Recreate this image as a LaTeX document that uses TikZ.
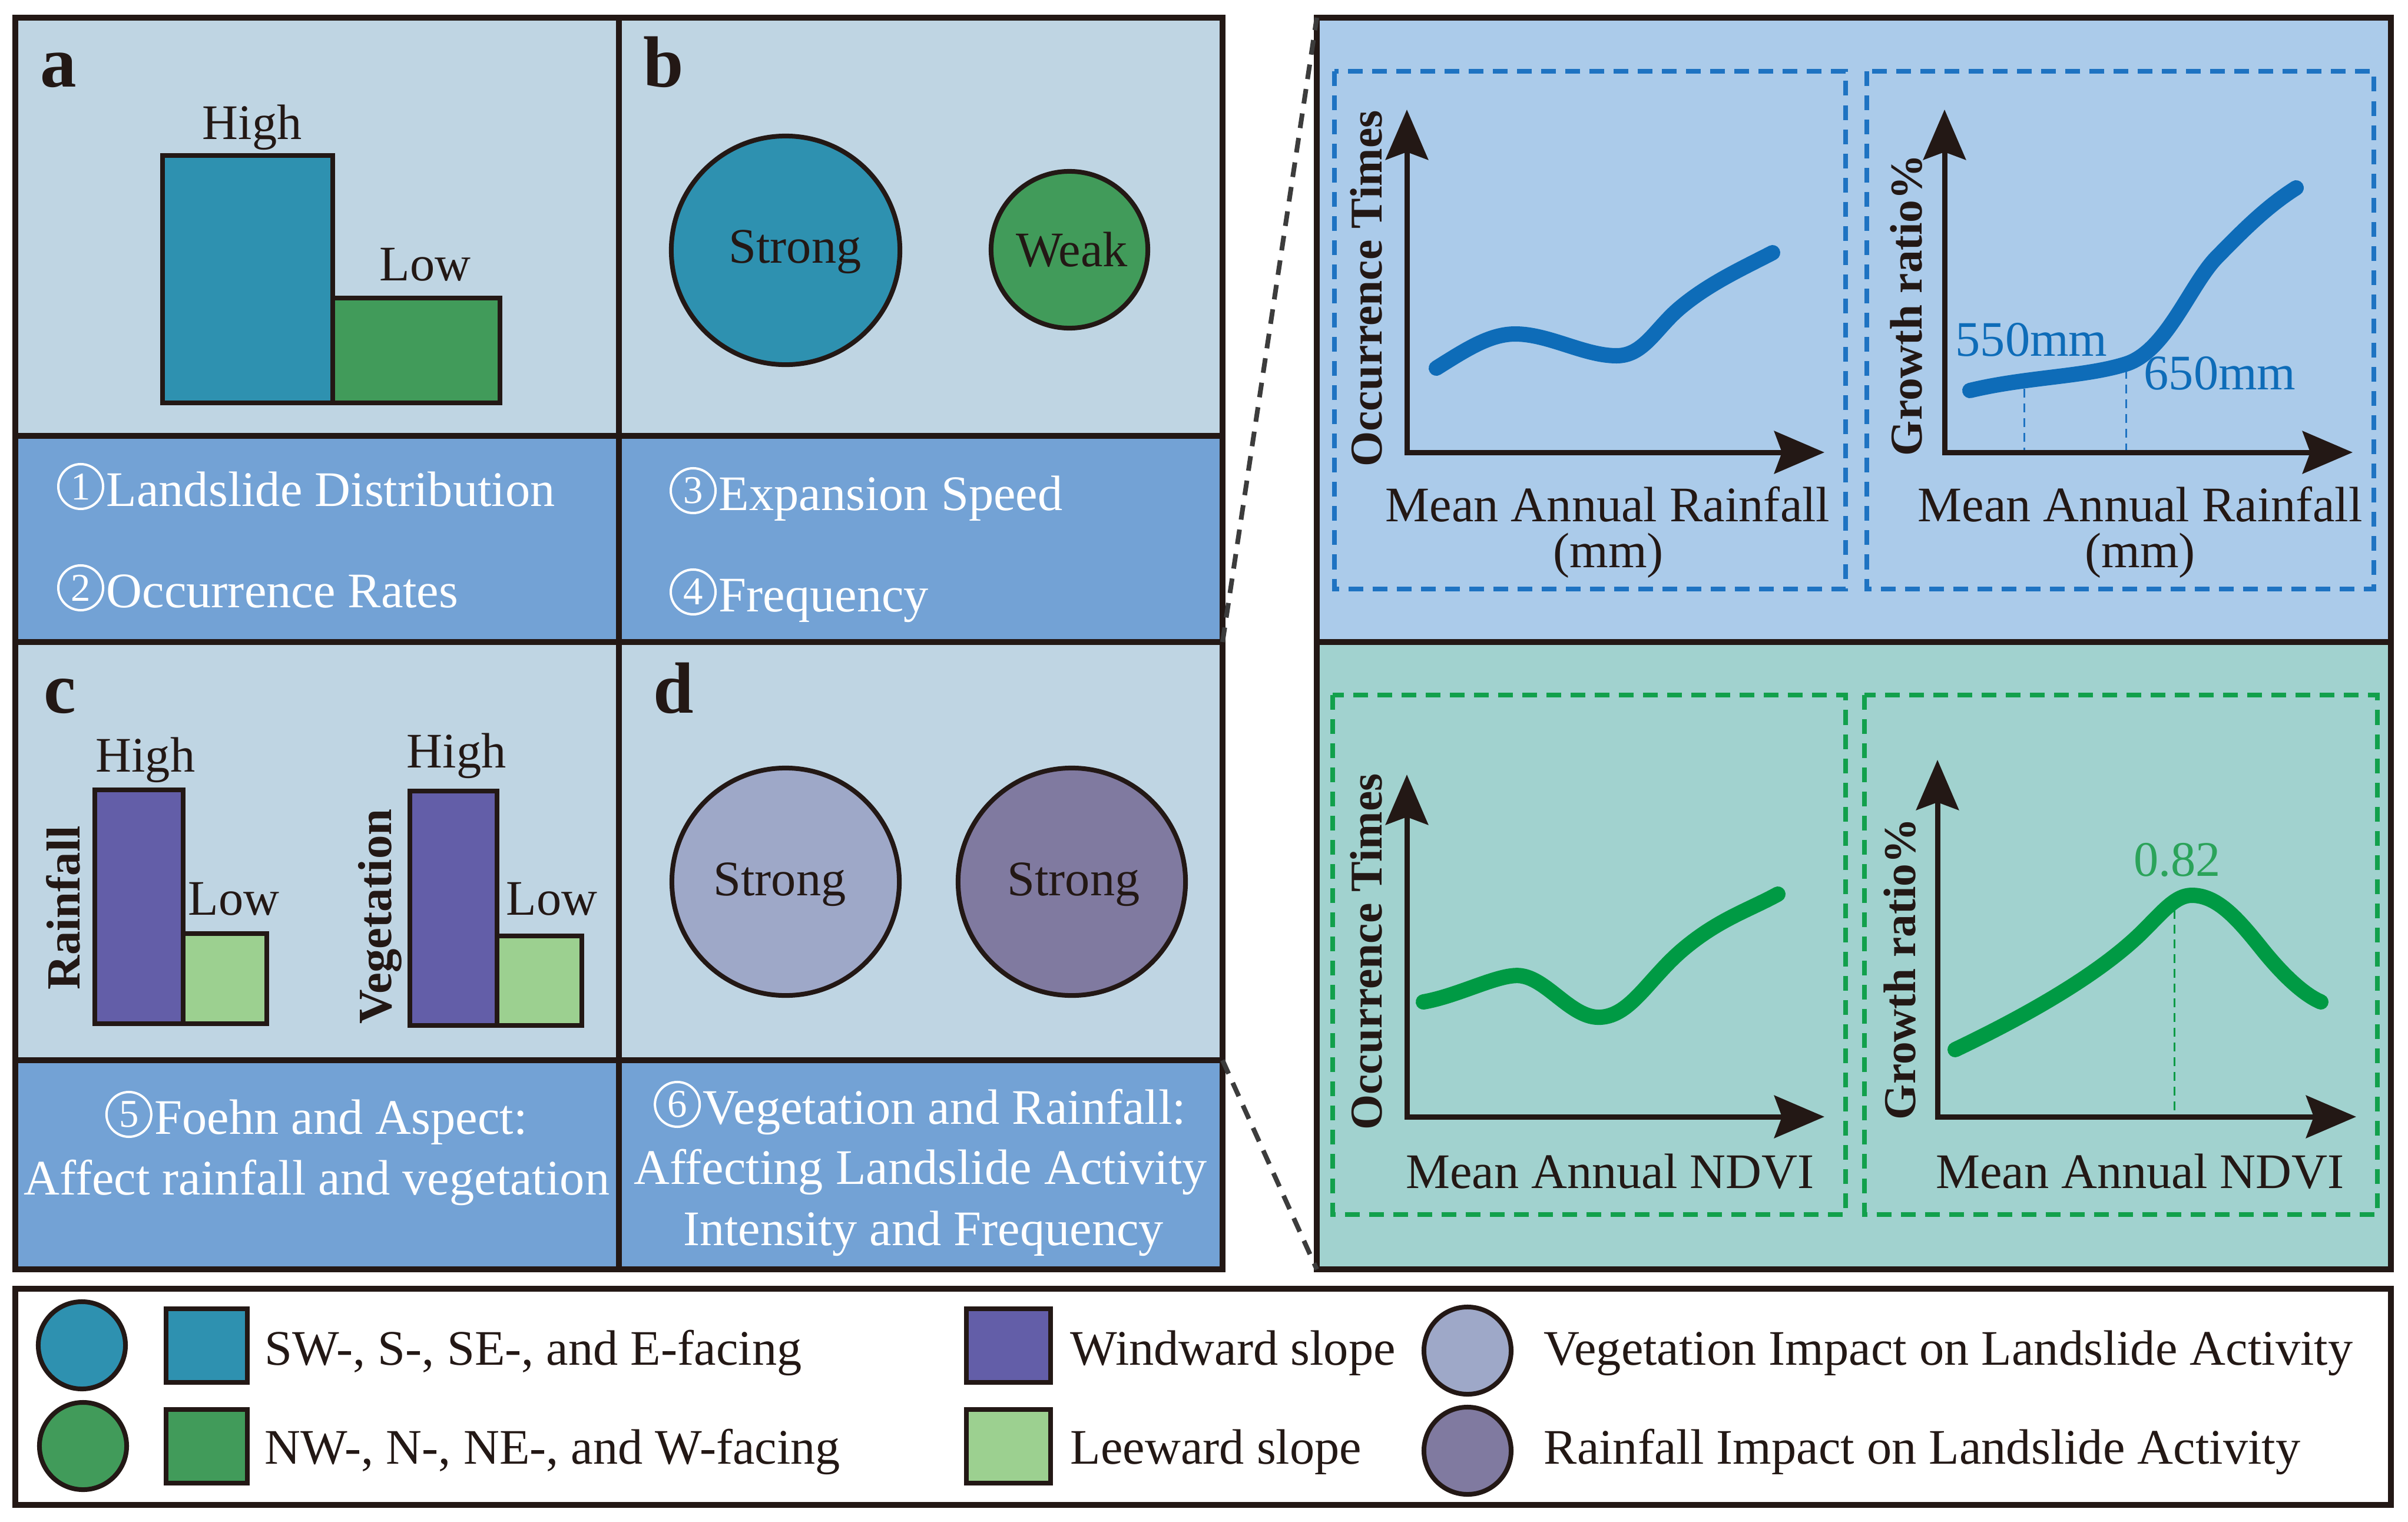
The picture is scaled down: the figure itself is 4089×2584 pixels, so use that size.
\documentclass[tikz,border=0pt]{standalone}
\usepackage{fontspec}
\setmainfont{Liberation Serif}
\usetikzlibrary{arrows.meta}
\definecolor{ink}{HTML}{231815}
\definecolor{panelbg}{HTML}{BFD5E3}
\definecolor{capbg}{HTML}{73A2D5}
\definecolor{topbg}{HTML}{ABCBEA}
\definecolor{botbg}{HTML}{A1D2CF}
\definecolor{tealc}{HTML}{2E91B0}
\definecolor{greenc}{HTML}{419B5A}
\definecolor{purplec}{HTML}{635EA8}
\definecolor{lgreenc}{HTML}{9CD090}
\definecolor{vegc}{HTML}{9EA8C8}
\definecolor{rainc}{HTML}{807AA0}
\definecolor{curveblue}{HTML}{0E6CB8}
\definecolor{dashblue}{HTML}{1E73C2}
\definecolor{curvegreen}{HTML}{009A44}
\definecolor{dashgreen}{HTML}{12A04C}
\definecolor{numgreen}{HTML}{2BA35A}
\definecolor{connc}{HTML}{3C3C3C}
\begin{document}
\begin{tikzpicture}[x=0.01cm,y=-0.01cm,
  border/.style={draw=ink,line width=0.1cm},
  barbox/.style={draw=ink,line width=0.08cm},
  lbl/.style={font=\fontsize{24}{28}\selectfont,text=ink,inner sep=0pt},
  captxt/.style={font=\fontsize{24}{28}\selectfont,text=white,inner sep=0pt},
  numc/.style={circle,draw=white,line width=0.04cm,minimum size=0.76cm,inner sep=0pt,text=white,font=\fontsize{19}{19}\selectfont},
  ylab/.style={font=\bfseries\fontsize{22}{26}\selectfont,rotate=90,inner sep=0pt,text=ink},
  barlab/.style={font=\bfseries\fontsize{23}{26}\selectfont,rotate=90,inner sep=0pt,text=ink},
  pletter/.style={font=\bfseries\fontsize{35}{40}\selectfont,inner sep=0pt,anchor=base west,text=ink},
  bigcirc/.style={circle,draw=ink,line width=0.08cm,inner sep=0pt},
  legc/.style={circle,draw=ink,line width=0.08cm,inner sep=0pt,minimum size=1.48cm},
  chartaxis/.style={draw=ink,line width=0.09cm,<->,>={Stealth[length=8.5mm,width=7.2mm,inset=1.3mm]}},
  dbox/.style={line width=0.08cm,dash pattern=on 0.25cm off 0.16cm},
  thindash/.style={line width=0.03cm,dash pattern=on 0.15cm off 0.1cm},
  conn/.style={draw=connc,line width=0.08cm,dash pattern=on 0.25cm off 0.17cm},
  curve/.style={line width=0.26cm,line cap=round,line join=round}
]
\useasboundingbox (0,0) rectangle (4089,2584);
\fill[white] (0,0) rectangle (4089,2584);

% ---------- left block ----------
\fill[panelbg] (26,30) rectangle (2076,740);
\fill[capbg] (26,740) rectangle (2076,1090);
\fill[panelbg] (26,1090) rectangle (2076,1800);
\fill[capbg] (26,1800) rectangle (2076,2155);
\draw[border] (1051,30) -- (1051,2155);
\draw[border] (26,740) -- (2076,740);
\draw[border] (26,1090) -- (2076,1090);
\draw[border] (26,1800) -- (2076,1800);
\draw[border] (26,30) rectangle (2076,2155);

% ---------- right block ----------
\fill[topbg] (2236,30) rectangle (4060,1090);
\fill[botbg] (2236,1090) rectangle (4060,2155);
\draw[border] (2236,1090) -- (4060,1090);
\draw[border] (2236,30) rectangle (4060,2155);

% connectors
\coordinate (lt) at (2076,1090);
\coordinate (rt) at (2236,30);
\coordinate (lb) at (2076,1800);
\coordinate (rb) at (2236,2155);
\draw[conn] (lt) -- (rt);
\draw[conn] (lb) -- (rb);

% ---------- panel a ----------
\node[pletter] (la) at (68,147) {a};
\draw[barbox,fill=tealc] (276,264) rectangle (565,684);
\draw[barbox,fill=greenc] (565,506) rectangle (849,684);
\node[lbl] (ahigh) at (428,216) {High};
\node[lbl] (alow) at (722,449) {Low};

% ---------- panel b ----------
\node[pletter] (lb2) at (1092,147) {b};
\node[bigcirc,fill=tealc,minimum size=3.88cm] (bstrong) at (1334,425) {};
\node[bigcirc,fill=greenc,minimum size=2.66cm] (bweak) at (1816,424) {};
\node[lbl] (bstrongt) at (1350,428) {Strong};
\node[lbl] (bweakt) at (1820,424) {Weak};

% ---------- captions a, b ----------
\node[captxt,anchor=base west] (t1) at (98,859) {\hspace{0.82cm}Landslide Distribution};
\node[numc] (n1) at ([xshift=0.39cm,yshift=0.33cm]t1.base west) {1};
\node[captxt,anchor=base west] (t2) at (98,1031) {\hspace{0.82cm}Occurrence Rates};
\node[numc] (n2) at ([xshift=0.39cm,yshift=0.33cm]t2.base west) {2};
\node[captxt,anchor=base west] (t3) at (1138,866) {\hspace{0.82cm}Expansion Speed};
\node[numc] (n3) at ([xshift=0.39cm,yshift=0.33cm]t3.base west) {3};
\node[captxt,anchor=base west] (t4) at (1138,1038) {\hspace{0.82cm}Frequency};
\node[numc] (n4) at ([xshift=0.39cm,yshift=0.33cm]t4.base west) {4};

% ---------- panel c ----------
\node[pletter] (lc) at (74,1210) {c};
\draw[barbox,fill=purplec] (161,1341) rectangle (311,1738);
\draw[barbox,fill=lgreenc] (311,1585) rectangle (453,1738);
\draw[barbox,fill=purplec] (696,1343) rectangle (844,1741);
\draw[barbox,fill=lgreenc] (844,1589) rectangle (988,1741);
\node[lbl] (chigh1) at (247,1290) {High};
\node[lbl] (clow1) at (397,1526) {Low};
\node[lbl] (chigh2) at (775,1283) {High};
\node[lbl] (clow2) at (937,1526) {Low};
\node[barlab] (crain) at (107,1541) {Rainfall};
\node[barlab] (cveg) at (645,1556) {Vegetation};

% ---------- panel d ----------
\node[pletter] (ld) at (1109,1210) {d};
\node[bigcirc,fill=vegc,minimum size=3.86cm] (dveg) at (1334,1497) {};
\node[bigcirc,fill=rainc,minimum size=3.86cm] (drain) at (1820,1497) {};
\node[lbl] (dvegt) at (1324,1502) {Strong};
\node[lbl] (draint) at (1823,1502) {Strong};

% ---------- captions c, d ----------
\node[captxt,anchor=base] (t5) at (538,1925) {\hspace{0.82cm}Foehn and Aspect:};
\node[numc] (n5) at ([xshift=0.39cm,yshift=0.33cm]t5.base west) {5};
\node[captxt,anchor=base] (t5b) at (538,2028) {Affect rainfall and vegetation};
\node[captxt,anchor=base] (t6) at (1563,1908) {\hspace{0.82cm}Vegetation and Rainfall:};
\node[numc] (n6) at ([xshift=0.39cm,yshift=0.33cm]t6.base west) {6};
\node[captxt,anchor=base] (t6b) at (1563,2010) {Affecting Landslide Activity};
\node[captxt,anchor=base] (t6c) at (1568,2114) {Intensity and Frequency};

% ---------- top right charts ----------
\draw[dbox,draw=dashblue] (2266,121) rectangle (3134,1000);
\draw[dbox,draw=dashblue] (3170,121) rectangle (4031,1000);
% chart 1
\draw[chartaxis] (2389,186) -- (2389,768) -- (3098,768);
\draw[curve,draw=curveblue] (2439,625) .. controls (2490,593) and (2530,567) .. (2573,567)
  .. controls (2630,567) and (2690,604) .. (2745,604)
  .. controls (2790,604) and (2810,560) .. (2850,525)
  .. controls (2900,482) and (2960,455) .. (3010,429);
\node[ylab] (y1) at (2320,490) {Occurrence Times};
\node[lbl,anchor=base] (x1) at (2730,885) {Mean Annual Rainfall};
\node[lbl,anchor=base] (x1b) at (2731,963) {(mm)};
% chart 2
\draw[thindash,draw=dashblue] (3437,660) -- (3437,768);
\draw[thindash,draw=dashblue] (3610,628) -- (3610,768);
\draw[chartaxis] (3302,186) -- (3302,768) -- (3995,768);
\draw[curve,draw=curveblue] (3345,663) .. controls (3440,640) and (3540,640) .. (3610,618)
  .. controls (3680,596) and (3720,480) .. (3766,435)
  .. controls (3810,390) and (3850,350) .. (3899,319);
\node[ylab] (y2) at (3237,518) {Growth ratio\%};
\node[lbl,anchor=base] (x2) at (3634,885) {Mean Annual Rainfall};
\node[lbl,anchor=base] (x2b) at (3634,963) {(mm)};
\node[lbl,text=curveblue,anchor=base west] (v550) at (3320,604) {550mm};
\node[lbl,text=curveblue,anchor=base west] (v650) at (3640,661) {650mm};

% ---------- bottom right charts ----------
\draw[dbox,draw=dashgreen] (2263,1180) rectangle (3134,2062);
\draw[dbox,draw=dashgreen] (3166,1180) rectangle (4037,2062);
% chart 3
\draw[chartaxis] (2389,1315) -- (2389,1896) -- (3098,1896);
\draw[curve,draw=curvegreen] (2417,1701) .. controls (2480,1690) and (2550,1650) .. (2585,1657)
  .. controls (2630,1665) and (2670,1730) .. (2718,1727)
  .. controls (2770,1724) and (2800,1660) .. (2860,1610)
  .. controls (2920,1560) and (2970,1545) .. (3019,1518);
\node[ylab] (y3) at (2320,1616) {Occurrence Times};
\node[lbl,anchor=base] (x3) at (2734,2017) {Mean Annual NDVI};
% chart 4
\draw[thindash,draw=curvegreen] (3692,1520) -- (3692,1896);
\draw[chartaxis] (3290,1290) -- (3290,1896) -- (4001,1896);
\draw[curve,draw=curvegreen] (3320,1782) .. controls (3450,1720) and (3570,1650) .. (3640,1580)
  .. controls (3675,1545) and (3695,1520) .. (3722,1520)
  .. controls (3765,1520) and (3800,1560) .. (3840,1610)
  .. controls (3880,1660) and (3915,1690) .. (3941,1701);
\node[ylab] (y4) at (3226,1645) {Growth ratio\%};
\node[lbl,anchor=base] (x4) at (3634,2017) {Mean Annual NDVI};
\node[lbl,text=numgreen,anchor=base] (v082) at (3697,1487) {0.82};

% ---------- legend ----------
\draw[border,fill=white] (26,2188) rectangle (4060,2555);
\node[legc,fill=tealc] (lc1) at (139,2284) {};
\node[legc,fill=greenc] (lc2) at (141,2455) {};
\draw[barbox,fill=tealc] (282,2222) rectangle (420,2347);
\draw[barbox,fill=greenc] (282,2393) rectangle (420,2518);
\node[lbl,anchor=base west] (lt1) at (449,2317) {SW-, S-, SE-, and E-facing};
\node[lbl,anchor=base west] (lt2) at (449,2485) {NW-, N-, NE-, and W-facing};
\draw[barbox,fill=purplec] (1641,2222) rectangle (1784,2347);
\draw[barbox,fill=lgreenc] (1641,2393) rectangle (1784,2518);
\node[lbl,anchor=base west] (lt3) at (1817,2317) {Windward slope};
\node[lbl,anchor=base west] (lt4) at (1817,2485) {Leeward slope};
\node[legc,fill=vegc] (lc3) at (2492,2293) {};
\node[legc,fill=rainc] (lc4) at (2492,2463) {};
\node[lbl,anchor=base west] (lt5) at (2621,2317) {Vegetation Impact on Landslide Activity};
\node[lbl,anchor=base west] (lt6) at (2621,2485) {Rainfall Impact on Landslide Activity};
\end{tikzpicture}
\end{document}
